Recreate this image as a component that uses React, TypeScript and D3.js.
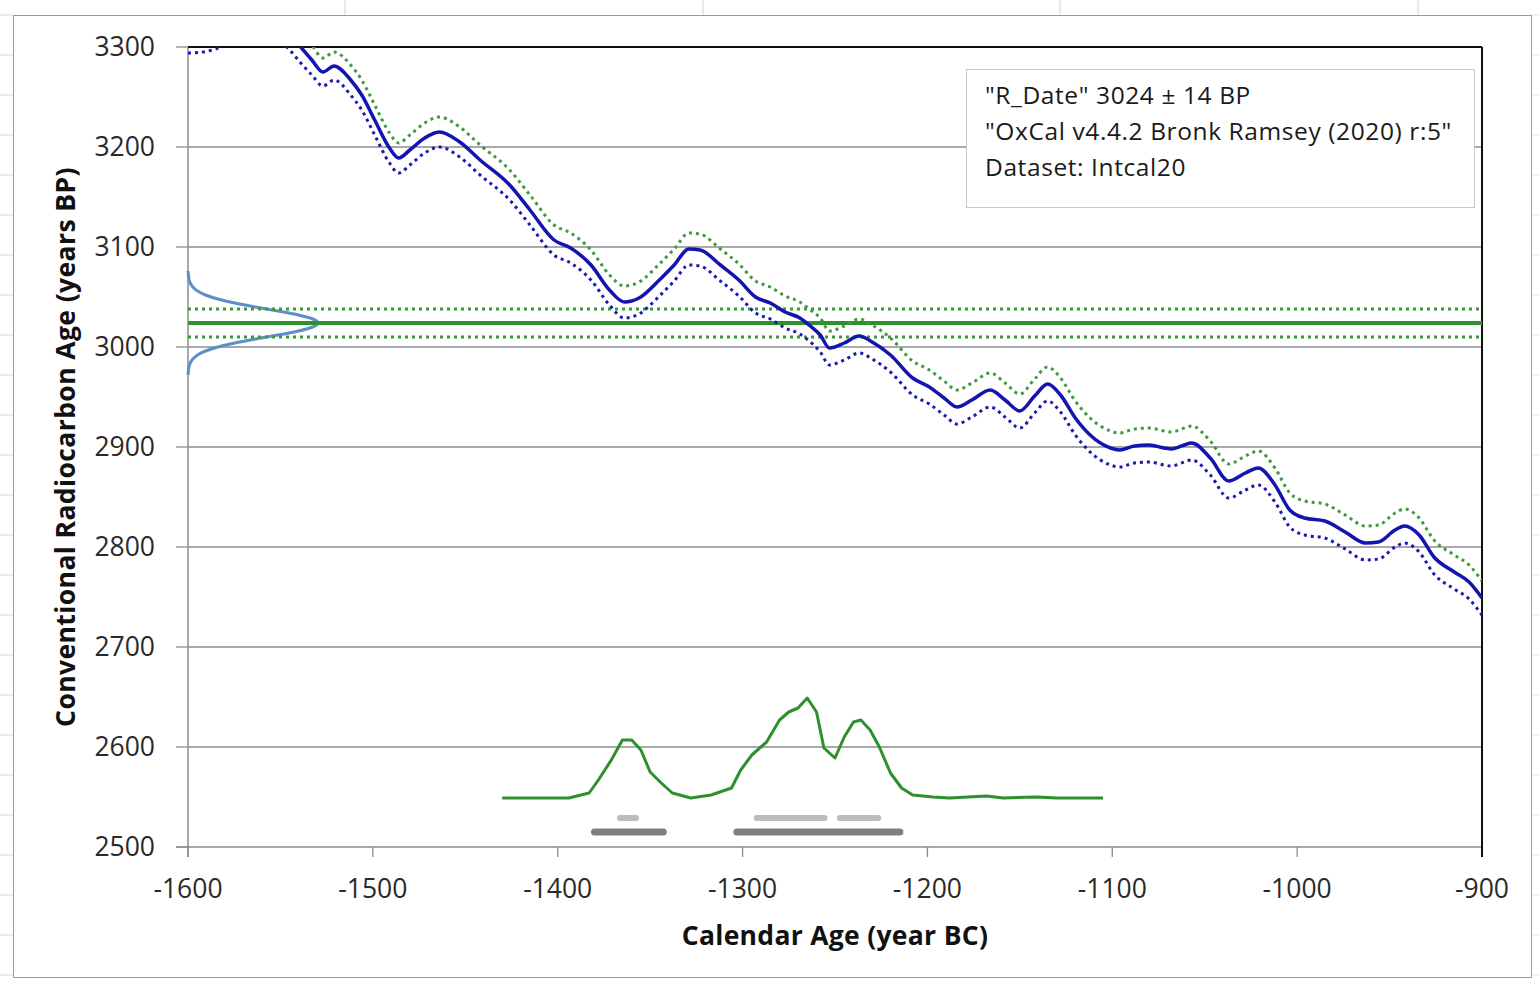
import React from "react";
import * as d3 from "d3";

// calibration curve (IntCal20)
const calYears = [-1600, -1592, -1585, -1570, -1555, -1546, -1539, -1533, -1527, -1521,
  -1512, -1506, -1499, -1491, -1486, -1480, -1472, -1464, -1453, -1442,
  -1426, -1415, -1402, -1393, -1382, -1372, -1364, -1356, -1345, -1337,
  -1329, -1323, -1312, -1302, -1293, -1285, -1277, -1269, -1264, -1258,
  -1253, -1245, -1237, -1229, -1220, -1208, -1199, -1191, -1184, -1176,
  -1166, -1158, -1150, -1142, -1135, -1128, -1120, -1112, -1101, -1096,
  -1088, -1080, -1072, -1068, -1061, -1057, -1047, -1037, -1028, -1021,
  -1012, -1004, -996, -985, -974, -963, -956, -947, -942, -934,
  -926, -915, -907, -900];
const calMean = [3310, 3311, 3314, 3328, 3326, 3315, 3300, 3287, 3275, 3281,
  3267, 3252, 3227, 3199, 3189, 3197, 3209, 3215, 3205, 3187,
  3162, 3137, 3107, 3099, 3082, 3057, 3045, 3049, 3067, 3082,
  3098, 3097, 3082, 3067, 3050, 3044, 3035, 3029, 3022, 3012,
  2999, 3004, 3011, 3004, 2992, 2969, 2960, 2949, 2940, 2947,
  2957, 2947, 2936, 2951, 2963, 2952, 2929, 2912, 2899, 2897,
  2901, 2902, 2899, 2898, 2902, 2904, 2889, 2866, 2874, 2879,
  2862, 2837, 2829, 2826, 2815, 2804, 2805, 2817, 2821, 2812,
  2790, 2775, 2765, 2749];
const calSigma = [16, 16, 16, 16, 16, 16, 16, 15, 14, 14,
  15, 15, 15, 15, 15, 15, 15, 15, 15, 15,
  15, 15, 15, 15, 15, 15, 16, 16, 16, 16,
  16, 16, 16, 16, 16, 16, 16, 16, 16, 17,
  17, 17, 17, 17, 17, 17, 17, 17, 17, 17,
  17, 17, 17, 17, 17, 17, 17, 17, 17, 17,
  17, 17, 17, 17, 17, 17, 17, 17, 17, 17,
  17, 17, 17, 17, 17, 17, 17, 17, 17, 17,
  17, 17, 17, 17];

// the measured date
const rDate = 3024;
const rError = 14;

// measured date distribution on the y axis (relative height)
const normBP = [2972, 2976, 2980, 2984, 2988, 2992, 2996, 3000, 3004, 3008, 3012, 3016, 3020,
  3024, 3028, 3032, 3036, 3040, 3044, 3048, 3052, 3056, 3060, 3064, 3068, 3072, 3076];
const normDensity = [0.001, 0.003, 0.007, 0.017, 0.037, 0.073, 0.135, 0.23, 0.36, 0.52, 0.693, 0.849, 0.96,
  1, 0.96, 0.849, 0.693, 0.52, 0.36, 0.23, 0.135, 0.073, 0.037, 0.017, 0.007, 0.003, 0.001];

// calibrated probability, plotted in BP units above 2549
const probYears = [-1430, -1394, -1383, -1378, -1371, -1365, -1360, -1355, -1350, -1344,
  -1338, -1328, -1317, -1306, -1301, -1295, -1287, -1280, -1275, -1270,
  -1265, -1260, -1256, -1250, -1245, -1240, -1236, -1231, -1226, -1220,
  -1214, -1208, -1197, -1188, -1168, -1159, -1141, -1130, -1105];
const probBP = [2549, 2549, 2554, 2567, 2587, 2607, 2607, 2597, 2575, 2564,
  2554, 2549, 2552, 2559, 2577, 2592, 2605, 2627, 2635, 2639,
  2649, 2635, 2599, 2589, 2610, 2625, 2627, 2617, 2600, 2574,
  2559, 2552, 2550, 2549, 2551, 2549, 2550, 2549, 2549];

// 68.3% and 95.4% ranges
const range1 = [[-1368, -1356], [-1294, -1254], [-1249, -1225]];
const range2 = [[-1382, -1341], [-1305, -1213]];
const range1BP = 2529;
const range2BP = 2515;

const xTicks = [-1600, -1500, -1400, -1300, -1200, -1100, -1000, -900];
const yTicks = [2500, 2600, 2700, 2800, 2900, 3000, 3100, 3200, 3300];
const legendLines = ['"R_Date" 3024 ± 14 BP', '"OxCal v4.4.2 Bronk Ramsey (2020) r:5"', "Dataset: Intcal20"];

const FONT = "'Open Sans', 'Noto Sans', sans-serif";

const App = () => {
  const W = 1539, H = 986;
  const left = 188, right = 1482, top = 47, bottom = 847;

  const x = d3.scaleLinear().domain([-1600, -900]).range([left, right]);
  const y = d3.scaleLinear().domain([2500, 3300]).range([bottom, top]);
  const dens = d3.scaleLinear().domain([0, 1]).range([left, left + 130]);

  const cal = calYears.map((yr, i) => ({ yr, m: calMean[i], s: calSigma[i] }));
  const calLine = d3.line<any>().x(d => x(d.yr)).y(d => y(d.m)).curve(d3.curveMonotoneX);
  const upLine = d3.line<any>().x(d => x(d.yr)).y(d => y(d.m + d.s)).curve(d3.curveMonotoneX);
  const loLine = d3.line<any>().x(d => x(d.yr)).y(d => y(d.m - d.s)).curve(d3.curveMonotoneX);

  const normLine = d3.line<number>()
    .x((d, i) => dens(normDensity[i]))
    .y(d => y(d))
    .curve(d3.curveMonotoneY);

  const probLine = d3.line<number>()
    .x((d, i) => x(probYears[i]))
    .y(d => y(d));

  // spreadsheet grid around the chart
  const sheetRows = d3.range(15, 986, 40);
  const sheetCols = [345, 703, 1060, 1418];

  return (
    <svg width={W} height={H} style={{ position: "absolute", left: 0, top: 0, background: "#fff" }}
      fontFamily={FONT}>
      <defs>
        <clipPath id="plot">
          <rect x={left} y={top} width={right - left} height={bottom - top} />
        </clipPath>
      </defs>

      {sheetCols.map(c => (
        <line key={c} x1={c} x2={c} y1={0} y2={15} stroke="#d4d4d4" />
      ))}
      {sheetRows.map(r => (
        <g key={r}>
          <line x1={0} x2={13} y1={r} y2={r} stroke="#d4d4d4" />
          <line x1={1531} x2={W} y1={r} y2={r} stroke="#e4e4e4" />
        </g>
      ))}
      <rect x={13.5} y={15.5} width={1518} height={962} fill="#fff" stroke="#9a9a9a" />

      {/* gridlines */}
      {yTicks.slice(1, -1).map(t => (
        <line key={t} x1={left} x2={right} y1={y(t)} y2={y(t)} stroke="#8c8c8c" strokeWidth={1.3} />
      ))}

      {/* axes */}
      <line x1={left} x2={left} y1={top} y2={bottom + 10} stroke="#8c8c8c" strokeWidth={1.5} />
      <line x1={left - 12} x2={right} y1={bottom} y2={bottom} stroke="#8c8c8c" strokeWidth={1.5} />
      {yTicks.map(t => (
        <g key={t}>
          <line x1={left - 12} x2={left} y1={y(t)} y2={y(t)} stroke="#8c8c8c" strokeWidth={1.3} />
          <text x={155} y={y(t)} dy="0.35em" textAnchor="end" fontSize={26.5} fill="#2a2a2a">{t}</text>
        </g>
      ))}
      {xTicks.map(t => (
        <g key={t}>
          <line x1={x(t)} x2={x(t)} y1={bottom} y2={bottom + 10} stroke="#8c8c8c" strokeWidth={1.3} />
          <text x={x(t)} y={898} textAnchor="middle" fontSize={26.5} fill="#2a2a2a">{t}</text>
        </g>
      ))}
      <line x1={left} x2={right} y1={top} y2={top} stroke="#111" strokeWidth={2} />
      <line x1={right} x2={right} y1={top} y2={bottom + 10} stroke="#111" strokeWidth={2} />

      {/* measured date */}
      <path d={normLine(normBP) || ""} fill="none" stroke="#5b8fc6" strokeWidth={3} />
      <line x1={left} x2={right} y1={y(rDate + rError)} y2={y(rDate + rError)}
        stroke="#3a9a3a" strokeWidth={3} strokeDasharray="3 4" />
      <line x1={left} x2={right} y1={y(rDate - rError)} y2={y(rDate - rError)}
        stroke="#3a9a3a" strokeWidth={3} strokeDasharray="3 4" />
      <line x1={left} x2={right} y1={y(rDate)} y2={y(rDate)} stroke="#2e912e" strokeWidth={4} />

      {/* calibration curve */}
      <g clipPath="url(#plot)">
        <path d={upLine(cal) || ""} fill="none" stroke="#3f9a3f" strokeWidth={3} strokeDasharray="3 4" />
        <path d={loLine(cal) || ""} fill="none" stroke="#1a1ab0" strokeWidth={3} strokeDasharray="3 4" />
        <path d={calLine(cal) || ""} fill="none" stroke="#1414ae" strokeWidth={3.5} />
      </g>

      {/* calibrated probability and ranges */}
      <path d={probLine(probBP) || ""} fill="none" stroke="#2e8f2e" strokeWidth={3} strokeLinejoin="round" />
      {range1.map(([a, b], i) => (
        <rect key={"r1" + i} x={x(a)} width={x(b) - x(a)} y={y(range1BP) - 3} height={6} rx={3} fill="#bcbcbc" />
      ))}
      {range2.map(([a, b], i) => (
        <rect key={"r2" + i} x={x(a)} width={x(b) - x(a)} y={y(range2BP) - 3.5} height={7} rx={3.5} fill="#7f7f7f" />
      ))}

      {/* legend */}
      <rect x={966.5} y={69.5} width={508} height={138} fill="#fff" stroke="#c8c8c8" />
      {legendLines.map((t, i) => (
        <text key={i} x={985} y={104 + i * 36} fontSize={24.5} letterSpacing={0.6} fill="#1a1a1a">{t}</text>
      ))}

      {/* axis titles */}
      <text x={835} y={945} textAnchor="middle" fontSize={26.5} letterSpacing={0.3} fontWeight="bold" fill="#111">
        Calendar Age (year BC)
      </text>
      <text transform={`translate(75, ${(top + bottom) / 2}) rotate(-90)`} textAnchor="middle"
        fontSize={26.5} letterSpacing={0.4} fontWeight="bold" fill="#111">
        Conventional Radiocarbon Age (years BP)
      </text>
    </svg>
  );
};

export default App;
